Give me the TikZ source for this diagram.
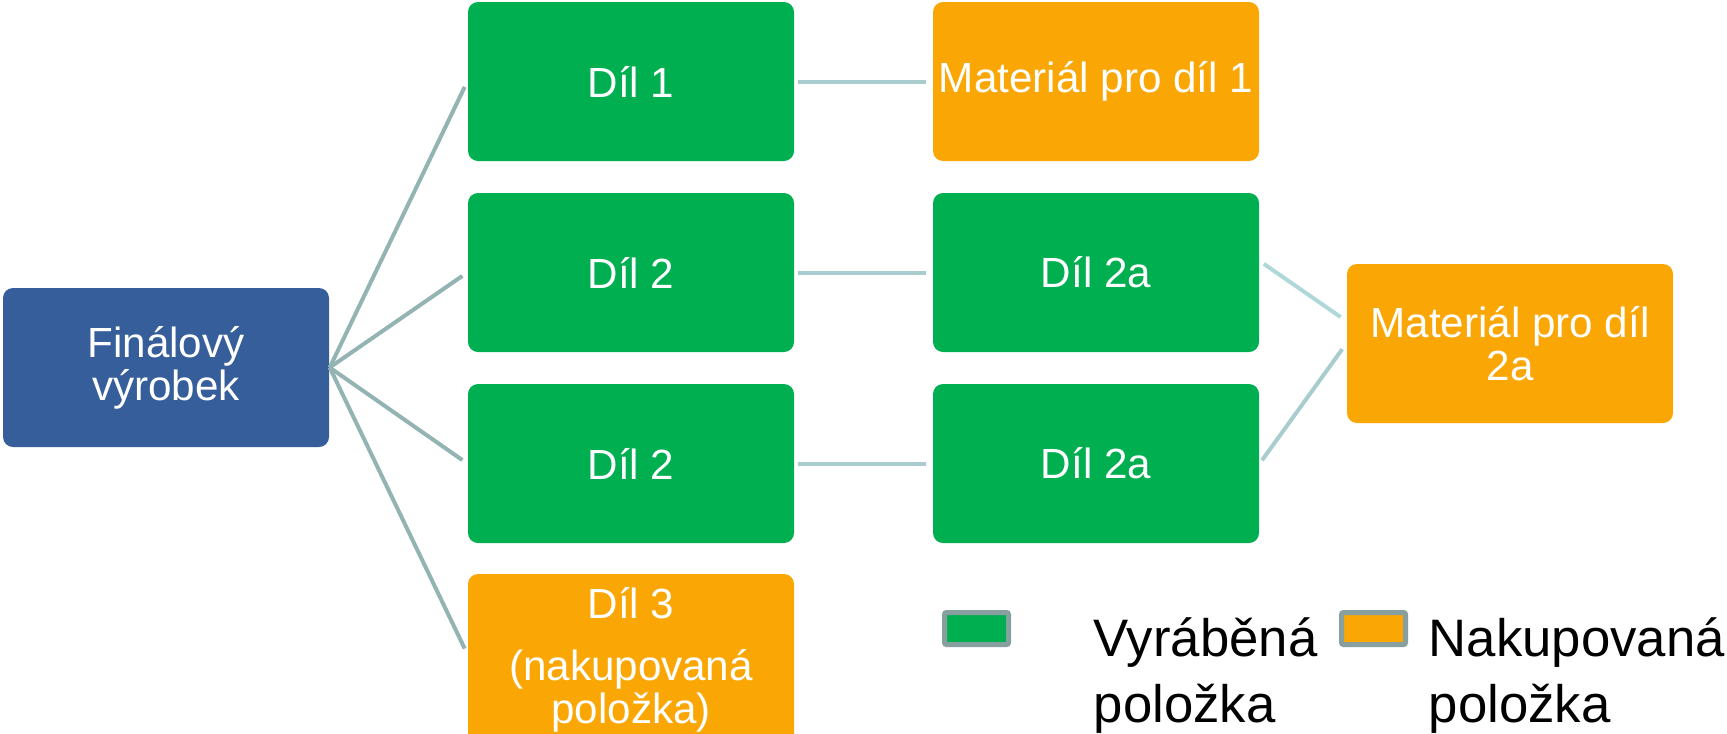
\documentclass[tikz,border=0pt]{standalone}
\usepackage{fontspec}
\setmainfont{Liberation Sans}
\usepackage{tikz}
\usetikzlibrary{positioning, calc}
\usepackage{xcolor}
\definecolor{xblue}{HTML}{355E9B}
\definecolor{xgreen}{HTML}{00AF50}
\definecolor{xorange}{HTML}{FAA706}
\definecolor{xline}{HTML}{94B3B3}
\definecolor{xlineb}{HTML}{A9CDCE}
\definecolor{xlinec}{HTML}{B0D8D9}
\definecolor{xgray}{HTML}{889F9F}
\tikzset{
	item/.style={rounded corners=0.1cm, minimum width=3.26cm, minimum height=1.59cm, inner sep=0pt, align=center, text=white, font=\fontsize{12}{12.3}\selectfont},
	made/.style={item, fill=xgreen},
	bought/.style={item, fill=xorange},
	link/.style={line width=0.04cm, xline},
	legendbox/.style={draw=xgray, line width=0.05cm, rounded corners=0.02cm, minimum width=0.64cm, minimum height=0.32cm, inner sep=0pt},
	legendlbl/.style={anchor=base west, inner sep=0pt, align=left, font=\fontsize{15}{18.5}\selectfont},
}

\begin{document}
\begin{tikzpicture}
			\path[use as bounding box, clip] (0,0) rectangle (17.27,-7.33);

			\node[item, fill=xblue] (final) at (1.66,-3.675) {Finálový\\výrobek};

			\node[made] (dil1) at (6.31,-0.815) {Díl 1};
			\node[made] (dil2) at (6.31,-2.725) {Díl 2};
			\node[made] (dil2b) at (6.31,-4.635) {Díl 2};
			\node[bought, minimum height=1.72cm] (dil3) at (6.31,-6.60) {Díl 3\\[5.4pt](nakupovaná\\položka)};

			\node[bought] (mat1) at (10.96,-0.815) {Materiál pro díl 1};
			\node[made] (dil2a) at (10.96,-2.725) {Díl 2a};
			\node[made] (dil2ab) at (10.96,-4.635) {Díl 2a};

			\node[bought] (mat2a) at (15.10,-3.435) {Materiál pro díl\\2a};

			\draw[link, shorten >=0.06cm] (final.east) -- (dil1.west);
			\draw[link, shorten >=0.06cm] (final.east) -- (dil2.west);
			\draw[link, shorten >=0.06cm] (final.east) -- (dil2b.west);
			\draw[link, shorten >=0.06cm] (final.east) -- ([yshift=0.06cm]dil3.west);

			\draw[link, xlineb, shorten <=0.03cm, shorten >=0.06cm] (dil1.east) -- (mat1.west);
			\draw[link, xlineb, shorten <=0.03cm, shorten >=0.06cm] (dil2.east) -- (dil2a.west);
			\draw[link, xlineb, shorten <=0.03cm, shorten >=0.06cm] (dil2b.east) -- (dil2ab.west);

			\draw[link, xlinec, shorten <=0.05cm, shorten >=0.07cm] ([yshift=0.115cm]dil2a.east) -- ([yshift=0.225cm]mat2a.west);
			\draw[link, xlineb, shorten <=0.04cm, shorten >=0.07cm] (dil2ab.east) -- (mat2a.west);

			\node[legendbox, fill=xgreen] (legmade) at (9.765,-6.285) {};
			\node[legendlbl] (legmadelbl) at (10.93,-7.22) {Vyráběná\\položka};
			\node[legendbox, fill=xorange] (legbought) at (13.735,-6.285) {};
			\node[legendlbl] (legboughtlbl) at (14.28,-7.22) {Nakupovaná\\položka};
		\end{tikzpicture}
\end{document}
